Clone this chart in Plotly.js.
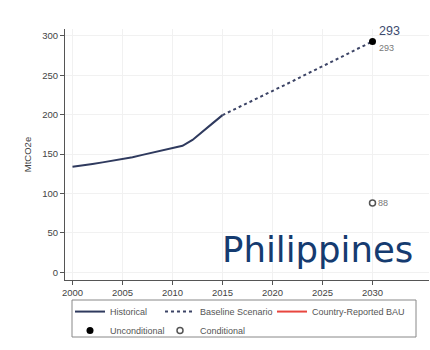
<!DOCTYPE html>
<html>
<head>
<meta charset="utf-8">
<script src="https://cdn.plot.ly/plotly-3.0.1.min.js"></script>
<style>
  html, body { margin: 0; padding: 0; background: #fff; }
  #chart { width: 430px; height: 350px; }
</style>
</head>
<body>
<div id="chart"></div>
<script>
// Historical emissions, MtCO2e
const histYears  = [2000, 2001, 2002, 2003, 2004, 2005, 2006, 2007, 2008, 2009, 2010, 2011, 2012, 2013, 2014, 2015];
const histValues = [134, 135.5, 137.5, 139.5, 141.5, 143.5, 146, 149, 152, 155, 157.5, 160.5, 168, 178, 189, 199.5];

// Baseline scenario projection
const baseYears  = [2015, 2016, 2017, 2018, 2019, 2020, 2021, 2022, 2023, 2024, 2025, 2026, 2027, 2028, 2029, 2030];
const baseValues = [199.5, 205.5, 212, 218, 224, 230, 236, 242.5, 249, 255, 261, 267.5, 274, 280.5, 287, 293];

// Country-reported BAU: no values reported, kept as a legend entry only
const bauYears  = [null];
const bauValues = [null];

// NDC targets
const uncYears  = [2030];
const uncValues = [293];
const condYears  = [2030];
const condValues = [88];

const xTicks = [2000, 2005, 2010, 2015, 2020, 2025, 2030];
const yTicks = [0, 50, 100, 150, 200, 250, 300];

const countryName = 'Philippines';
const yAxisLabel = 'MtCO2e';

const FONT = 'Liberation Sans, Arial, sans-serif';
const legendFont = { family: FONT, size: 9, color: '#555' };
const valueFont = { family: FONT, size: 9, color: '#777' };

const traces = [
  { type: 'scatter', mode: 'lines', name: 'Historical', x: histYears, y: histValues,
    line: { color: '#2f3a5e', width: 2 }, legend: 'legend' },
  { type: 'scatter', mode: 'lines', name: 'Baseline Scenario', x: baseYears, y: baseValues,
    line: { color: '#3c4466', width: 2, dash: 'dot' }, legend: 'legend2' },
  { type: 'scatter', mode: 'lines', name: 'Country-Reported BAU', x: bauYears, y: bauValues,
    line: { color: '#e8463f', width: 2 }, legend: 'legend3' },
  { type: 'scatter', mode: 'markers', name: 'Unconditional', x: uncYears, y: uncValues,
    marker: { color: '#000', size: 7 }, legend: 'legend' },
  { type: 'scatter', mode: 'markers', name: 'Conditional', x: condYears, y: condValues,
    marker: { color: '#fff', size: 6, line: { color: '#555', width: 1.5 } }, legend: 'legend2' }
];

function legendAt(px) {
  return {
    x: (px - 65) / 364, xanchor: 'left', y: -0.068, yanchor: 'top',
    orientation: 'v', bgcolor: 'rgba(0,0,0,0)', borderwidth: 0,
    font: legendFont, itemwidth: 30, tracegroupgap: 0
  };
}

const layout = {
  width: 430, height: 350,
  margin: { l: 65, r: 1, t: 29, b: 70 },
  paper_bgcolor: '#fff', plot_bgcolor: '#fff',
  showlegend: true,
  legend: legendAt(70),
  legend2: legendAt(160),
  legend3: legendAt(272),
  xaxis: {
    range: [1999.25, 2035.65], tickvals: xTicks, ticktext: xTicks.map(String),
    showgrid: true, gridcolor: '#f1f1f1', gridwidth: 1, zeroline: false,
    showline: true, linecolor: '#555', linewidth: 1,
    ticks: 'outside', ticklen: 4, tickcolor: '#555',
    tickfont: { family: FONT, size: 9.5, color: '#444' }
  },
  yaxis: {
    range: [-9.8, 308.8], tickvals: yTicks, ticktext: yTicks.map(String),
    showgrid: true, gridcolor: '#f1f1f1', gridwidth: 1, zeroline: false,
    showline: true, linecolor: '#555', linewidth: 1,
    ticks: 'outside', ticklen: 4, tickcolor: '#555',
    tickfont: { family: FONT, size: 9.5, color: '#444' },
    title: { text: yAxisLabel, font: { family: FONT, size: 9.5, color: '#444' }, standoff: 8 }
  },
  shapes: [
    { type: 'rect', xref: 'paper', yref: 'paper',
      x0: (72 - 65) / 364, x1: (416 - 65) / 364, y0: (280 - 337) / 251, y1: (280 - 300) / 251,
      line: { color: '#888', width: 1 }, fillcolor: 'rgba(0,0,0,0)' }
  ],
  annotations: [
    // headline value of the unconditional target
    { x: uncYears[0], y: uncValues[0], xref: 'x', yref: 'y', text: String(uncValues[0]),
      xanchor: 'left', yanchor: 'bottom', xshift: 4, yshift: 1, showarrow: false,
      font: { family: FONT, size: 12.5, color: '#3d4a6e' } },
    // small value labels beside the target markers
    { x: uncYears[0], y: uncValues[0], xref: 'x', yref: 'y', text: String(uncValues[0]),
      xanchor: 'left', yanchor: 'top', xshift: 4, yshift: 0, showarrow: false, font: valueFont },
    { x: condYears[0], y: condValues[0], xref: 'x', yref: 'y', text: String(condValues[0]),
      xanchor: 'left', yanchor: 'middle', xshift: 3, yshift: 0, showarrow: false, font: valueFont },
    { x: (415 - 65) / 364, y: (280 - 249) / 251, xref: 'paper', yref: 'paper', text: countryName,
      xanchor: 'right', yanchor: 'middle', showarrow: false,
      font: { family: 'DejaVu Sans, sans-serif', size: 35.5, color: '#153b70' } }
  ]
};

Plotly.newPlot('chart', traces, layout, { staticPlot: true, displayModeBar: false });
</script>
</body>
</html>
